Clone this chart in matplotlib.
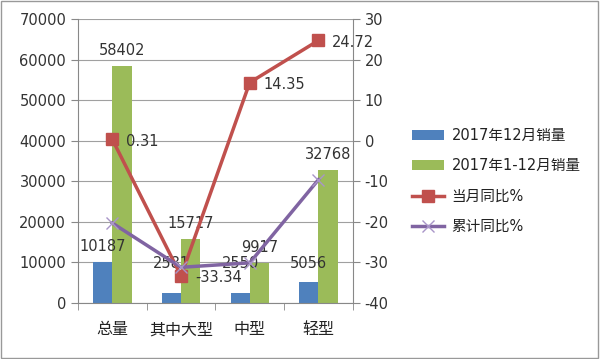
import numpy as np
import matplotlib.pyplot as plt

plt.rcParams['font.family'] = ['DejaVu Sans', 'Noto Sans CJK SC']
plt.rcParams['axes.unicode_minus'] = False

categories = ['总量', '其中大型', '中型', '轻型']
dec_sales = [10187, 2581, 2550, 5056]
year_sales = [58402, 15717, 9917, 32768]
month_yoy = [0.31, -33.34, 14.35, 24.72]
cum_yoy = [-20.3, -31.2, -30.1, -9.6]

fig = plt.figure(figsize=(6, 3.59), dpi=100)
ax = fig.add_axes([0.13, 0.156, 0.458, 0.791])
x = np.arange(len(categories))
w = 0.28

b1 = ax.bar(x - w/2, dec_sales, w, color='#4F81BD', label='2017年12月销量', zorder=2)
b2 = ax.bar(x + w/2, year_sales, w, color='#9BBB59', label='2017年1-12月销量', zorder=2)
# labels sit above the bars, small ones pushed up like in the original
for xi, v in zip(x, dec_sales):
    ax.text(xi - w/2, max(v + 2000, 7800), str(v), ha='center', va='bottom', fontsize=10.5,
            color='#333333', zorder=5)
for xi, v in zip(x, year_sales):
    ax.text(xi + w/2, v + 2000, str(v), ha='center', va='bottom', fontsize=10.5,
            color='#333333', zorder=5)

ax.set_xlim(-0.5, 3.5)
ax.set_ylim(0, 70000)
ax.set_yticks(range(0, 70001, 10000))
ax.yaxis.grid(True, color='#a0a0a0', linewidth=0.8, zorder=0)
ax.set_axisbelow(True)
ax.set_xticks(x)
ax.set_xticklabels(categories, fontsize=11.5, color='#222222')
ax.set_xticks(np.arange(-0.5, 4, 1), minor=True)
ax.tick_params(axis='x', which='major', length=0, pad=14)
ax.tick_params(axis='x', which='minor', length=5, color='#888888')
ax.tick_params(axis='y', labelsize=10.5, length=5, color='#888888', labelcolor='#333333')
for s in ['top', 'right']:
    ax.spines[s].set_visible(False)
ax.spines['left'].set_color('#888888')
ax.spines['bottom'].set_color('#888888')

ax2 = ax.twinx()
ax2.set_ylim(-40, 30)
ax2.set_yticks(range(-40, 31, 10))
l1, = ax2.plot(x, month_yoy, color='#C0504D', lw=2.5, marker='s', ms=9, label='当月同比%', zorder=3)
l2, = ax2.plot(x, cum_yoy, color='#8064A2', lw=2.5, marker='x', ms=9, mew=1,
               mec='#a995c8', label='累计同比%', zorder=3)
for xi, v in zip(x, month_yoy):
    ax2.text(xi + 0.2, v - 0.4, f'{v:.2f}', ha='left', va='center', fontsize=10.5, color='#333333')
ax2.tick_params(axis='y', labelsize=10.5, length=5, color='#888888', labelcolor='#333333')
for s in ['top', 'left', 'bottom']:
    ax2.spines[s].set_visible(False)
ax2.spines['right'].set_color('#888888')

leg = fig.legend([b1, b2, l1, l2], [h.get_label() for h in [b1, b2, l1, l2]],
                 loc='upper left', bbox_to_anchor=(0.665, 0.68), frameon=False,
                 fontsize=10.5, handlelength=2.2, handletextpad=0.5, labelspacing=1.05)
for t in leg.get_texts():
    t.set_color('#222222')

fig.patches.append(plt.Rectangle((0.002, 0.003), 0.995, 0.993, transform=fig.transFigure,
                                 fill=False, edgecolor='#999999', lw=1))
fig.savefig('out.png', dpi=100)
